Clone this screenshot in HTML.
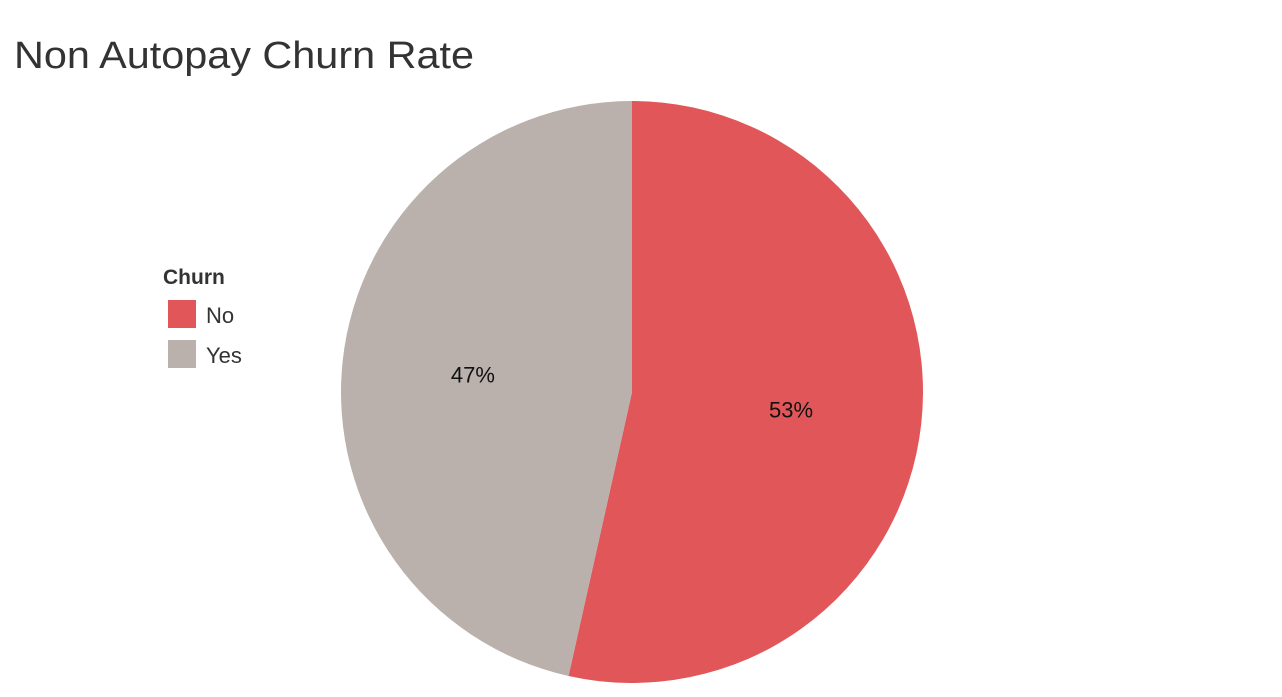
<!DOCTYPE html>
<html><head><meta charset="utf-8"><style>
body{margin:0;width:1282px;height:692px;background:#fff;overflow:hidden;font-family:"Liberation Sans",sans-serif;}
</style></head><body>
<svg width="1282" height="692">
<text x="14" y="68" font-size="38" fill="#333" textLength="460" lengthAdjust="spacingAndGlyphs">Non Autopay Churn Rate</text>
<text x="163" y="284" font-size="21" font-weight="bold" fill="#333">Churn</text>
<g id="legend"></g>
<g id="pie"></g>
</svg>
<script>
const categories=["No","Yes"];
const values=[53.5,46.5];
const labels=["53%","47%"];
const colors=["#e15759","#bab0ac"];
const ns="http://www.w3.org/2000/svg";
const cx=632,cy=392,r=291;
const total=values.reduce((a,b)=>a+b,0);
const pie=document.getElementById('pie');
let a0=0;
values.forEach((v,i)=>{
  const a1=a0+v/total*2*Math.PI;
  const p=t=>[cx+r*Math.sin(t),cy-r*Math.cos(t)];
  const [x0,y0]=p(a0),[x1,y1]=p(a1);
  const path=document.createElementNS(ns,'path');
  path.setAttribute('d',`M${cx},${cy}L${x0},${y0}A${r},${r} 0 ${a1-a0>Math.PI?1:0} 1 ${x1},${y1}Z`);
  path.setAttribute('fill',colors[i]);
  
  
  pie.appendChild(path);
  const m=(a0+a1)/2, lr=r*0.55;
  const t=document.createElementNS(ns,'text');
  t.setAttribute('x',cx+lr*Math.sin(m));
  t.setAttribute('y',cy-lr*Math.cos(m)+8);
  t.setAttribute('text-anchor','middle');
  t.setAttribute('font-size','22');
  t.setAttribute('fill','#111');
  t.textContent=labels[i];
  
  
  pie.appendChild(t);
  a0=a1;
});
const lg=document.getElementById('legend');
categories.forEach((c,i)=>{
  const y=300+i*40;
  const rc=document.createElementNS(ns,'rect');
  rc.setAttribute('x',168);rc.setAttribute('y',y);rc.setAttribute('width',28);rc.setAttribute('height',28);
  rc.setAttribute('fill',colors[i]);
  
  
  lg.appendChild(rc);
  const t=document.createElementNS(ns,'text');
  t.setAttribute('x',206);t.setAttribute('y',y+23);
  t.setAttribute('font-size','22');t.setAttribute('fill','#333');
  t.textContent=c;
  
  
  lg.appendChild(t);
});
</script>
</body></html>
